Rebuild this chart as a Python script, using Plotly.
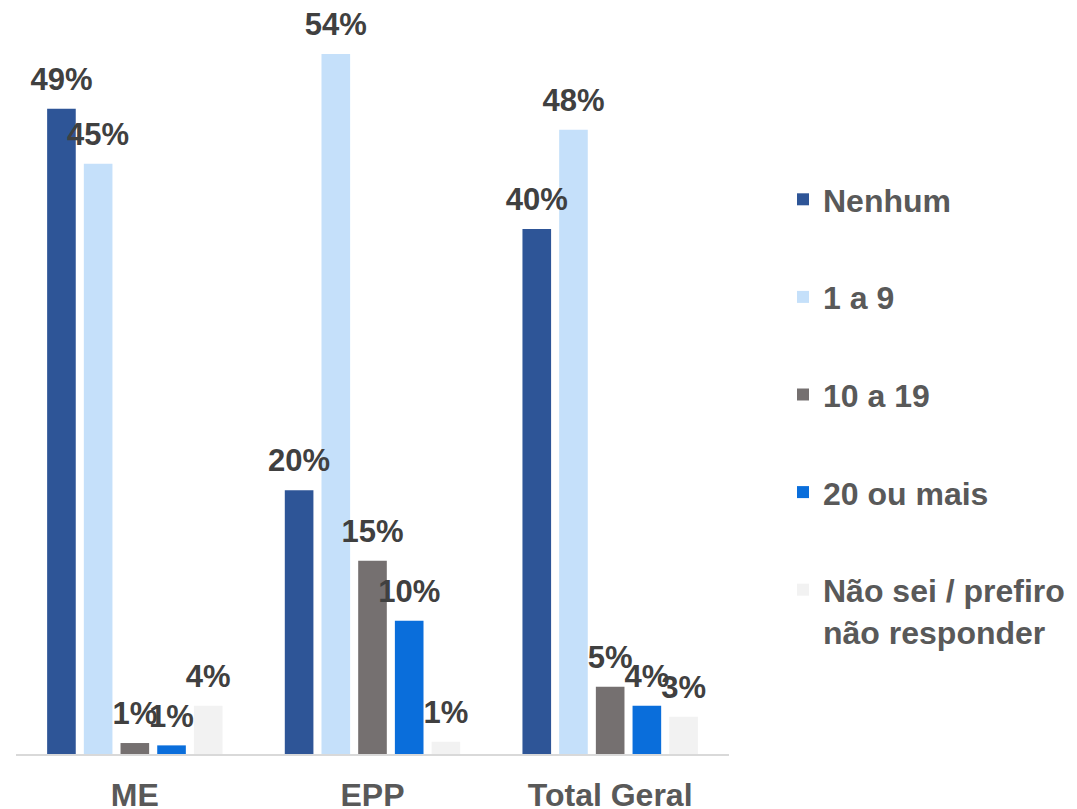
import plotly.graph_objects as go

categories = ["ME", "EPP", "Total Geral"]
series_names = ["Nenhum", "1 a 9", "10 a 19", "20 ou mais", "Não sei / prefiro<br>não responder"]
nenhum = [49.4, 20.2, 40.2]
um_a_nove = [45.2, 53.6, 47.8]
dez_a_dezenove = [0.84, 14.8, 5.15]
vinte_ou_mais = [0.66, 10.2, 3.7]
nao_sei = [3.7, 0.94, 2.85]
series_values = [nenhum, um_a_nove, dez_a_dezenove, vinte_ou_mais, nao_sei]
colors = ["#2E5597", "#C5E0FA", "#757070", "#0A6EDB", "#F2F2F2"]

FONT = "Liberation Sans, Arial, sans-serif"
GAP = 0.228

fig = go.Figure()
for i, (name, vals, col) in enumerate(zip(series_names, series_values, colors)):
    fig.add_trace(go.Bar(
        x=categories, y=vals, name=name,
        marker=dict(color=col, line=dict(width=0)),
        legendgroup=f"g{i}",
    ))
# data labels: text-only scatter traces aligned with the grouped bars
for i, (name, vals) in enumerate(zip(series_names, series_values)):
    fig.add_trace(go.Scatter(
        x=categories, y=vals, mode="markers+text",
        text=[f"{v:.0f}%" for v in vals], textposition="top center",
        marker=dict(size=16, opacity=0, color="white"),
        textfont=dict(family=FONT, size=31, color="#404040", weight="bold"),
        cliponaxis=False, showlegend=False, hoverinfo="skip",
        legendgroup=f"g{i}",
    ))

fig.update_layout(
    width=1077, height=809,
    paper_bgcolor="white", plot_bgcolor="white",
    margin=dict(l=16, r=348, t=20, b=55, autoexpand=False),
    barmode="group", bargap=GAP, bargroupgap=0.22,
    scattermode="group", scattergap=GAP,
    showlegend=True,
    legend=dict(
        xref="container", yref="container",
        x=783 / 1077, y=1 - 172 / 809, xanchor="left", yanchor="top",
        traceorder="grouped", tracegroupgap=53, valign="top",
        maxheight=700,
        font=dict(family=FONT, size=32, color="#595959", weight="bold"),
    ),
    font=dict(family=FONT),
)
fig.update_xaxes(
    showline=True, linecolor="#D9D9D9", linewidth=2,
    ticks="", ticklabelstandoff=12, automargin=False,
    tickfont=dict(family=FONT, size=32, color="#595959", weight="bold"),
    showgrid=False, zeroline=False,
)
fig.update_yaxes(
    range=[0, 56.2], visible=False, showgrid=False, zeroline=False,
    automargin=False,
)

fig.write_html("out.html", config={"displayModeBar": False},
               post_script="document.body.style.margin='0';")
